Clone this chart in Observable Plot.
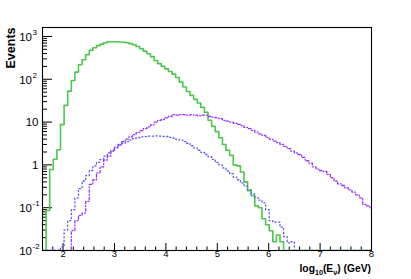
<!DOCTYPE html>
<html><head><meta charset="utf-8">
<script src="https://cdn.jsdelivr.net/npm/d3@7"></script>
<script src="https://cdn.jsdelivr.net/npm/@observablehq/plot@0.6"></script>
<style>body{margin:0;background:#fff;}</style>
</head><body><div id="chart"></div>
<script>
// Histogram binning (log10 E bins)
const binStart = 1.6;
const binWidth = 0.07;

// Series values per bin (Events)
const green = [0,0.086,0.78,1.35,2.26,8.7,24.5,53,94,147,219,287,376,473,547,610,664,716,750,755,750,745,735,712,680,643,585,515,455,395,338,275,232,200,175,152,132,110,86,66,52,42,34,28,22,17,11,8,6.0,4.3,3.0,2.2,1.67,1.0,0.95,0.68,0.40,0.25,0.19,0.11,0.10,0.055,0.04,0.029,0.016,0.023,0.016,0,0,0,0,0,0,0,0,0,0,0,0,0,0,0,0,0,0,0,0,0,0,0,0,0];
const blue = [0,0,0,0,0,0.012,0.03,0.05,0.09,0.17,0.28,0.42,0.56,0.74,0.95,1.15,1.35,1.6,1.9,2.2,2.6,2.9,3.2,3.5,3.8,4.1,4.3,4.5,4.55,4.7,4.7,4.75,4.7,4.65,4.6,4.4,4.25,4.0,3.8,3.5,3.2,2.8,2.5,2.2,1.95,1.75,1.55,1.35,1.15,1.0,0.85,0.72,0.62,0.52,0.45,0.38,0.32,0.26,0.21,0.17,0.15,0.13,0.09,0.05,0.046,0.046,0.035,0.021,0.015,0.016,0,0,0,0,0,0,0,0,0,0,0,0,0,0,0,0,0,0,0,0,0,0];
const purple = [0,0,0,0,0,0,0,0,0.029,0.05,0.066,0.075,0.14,0.35,0.45,0.65,0.9,1.3,1.6,2.1,2.5,3.0,3.5,4.0,4.5,5.1,5.7,6.3,7.0,7.7,8.6,10,11,11.5,12.5,13.5,15,14.5,15,15,14.5,15,14.5,14,14.5,14.5,13.5,13,12.5,12,11,10.5,10,9.4,8.8,8.3,7.5,7.0,6.4,5.8,5.3,4.9,4.4,4.0,3.6,3.3,3.0,2.7,2.4,2.1,1.9,1.75,1.5,1.25,1.1,0.9,0.8,0.74,0.7,0.6,0.5,0.42,0.36,0.33,0.29,0.26,0.23,0.2,0.17,0.12,0.11,0.10];

// Axes
const xDomain = [1.6, 8];
const yDomain = [0.01, 1620];
const xTicks = [2,3,4,5,6,7,8];
const xTickLabels = ["2","3","4","5","6","7","8"];
const yTicks = [0.01,0.1,1,10,100,1000];
const yTickBase = ["10","10","1","10","10","10"];
const yTickExp = ["-2","-1","","","2","3"];
const yTitle = "Events";

const W = 411, H = 279, mL = 42, mR = 40, mT = 27, mB = 29;
const plotW = W - mL - mR, plotH = H - mT - mB;

function steps(vals) {
  const pts = vals.map((v, i) => ({x: binStart + i * binWidth, y: Math.max(v, yDomain[0])}));
  pts.push({x: binStart + vals.length * binWidth, y: Math.max(vals[vals.length - 1], yDomain[0])});
  return pts;
}

const yMinor = d3.scaleLog().domain(yDomain).ticks().filter(t => !yTicks.some(m => Math.abs(m - t) / t < 1e-6));
const xMinor = d3.range(0, 33).map(i => +(xDomain[0] + i * 0.2).toFixed(2)).filter(t => t <= xDomain[1] && !xTicks.includes(t));

const yTable = yTicks.map((v, i) => ({v, base: yTickBase[i], exp: yTickExp[i]}));
const fontFam = "'Liberation Sans', Arial, Helvetica, sans-serif";

const svg = Plot.plot({
  width: W, height: H,
  marginLeft: mL, marginRight: mR, marginTop: mT, marginBottom: mB,
  style: {background: "white", fontFamily: fontFam, color: "black", overflow: "visible"},
  x: {domain: xDomain, axis: null},
  y: {type: "log", domain: yDomain, axis: null},
  marks: [
    Plot.frame({stroke: "black", strokeWidth: 1.1}),
    Plot.tickY(yTicks, {y: d => d, stroke: "black", insetRight: plotW - 10}),
    Plot.tickY(yMinor, {y: d => d, stroke: "black", insetRight: plotW - 5}),
    Plot.tickX(xTicks, {x: d => d, stroke: "black", insetTop: plotH - 7}),
    Plot.tickX(xMinor, {x: d => d, stroke: "black", insetTop: plotH - 3.5}),
    Plot.text(yTable.filter(d => d.exp === ""), {y: "v", text: "base", frameAnchor: "left", textAnchor: "end", dx: -4, fontSize: 11.5, fill: "black"}),
    Plot.text(yTable.filter(d => d.exp !== ""), {y: "v", text: "base", frameAnchor: "left", textAnchor: "end", dx: -10.5, dy: 1, fontSize: 11.5, fill: "black"}),
    Plot.text(yTable.filter(d => d.exp !== ""), {y: "v", text: "exp", frameAnchor: "left", textAnchor: "start", dx: -10, dy: -4, fontSize: 8, fill: "black"}),
    Plot.text(xTicks, {x: d => d, text: (d, i) => xTickLabels[i], frameAnchor: "bottom", dy: 6.5, fontSize: 9.5, fill: "black"}),
    Plot.text([yTitle], {text: d => d, frameAnchor: "top-left", rotate: -90, textAnchor: "end", lineAnchor: "middle", dx: -32, fontSize: 12.5, fontWeight: "bold", fill: "black"}),
    Plot.line(steps(green), {x: "x", y: "y", curve: "step-after", stroke: "#4cc94c", strokeWidth: 1.6, clip: true}),
    Plot.line(steps(blue), {x: "x", y: "y", curve: "step-after", stroke: "#5858f5", strokeWidth: 1.3, strokeDasharray: "1.2 2.6", clip: true}),
    Plot.line(steps(purple), {x: "x", y: "y", curve: "step-after", stroke: "#9933ff", strokeWidth: 1.3, strokeDasharray: "2.5 2 1 2", clip: true})
  ]
});

// x-axis title with subscripts
const t = d3.select(svg).append("text")
  .attr("x", W - mR).attr("y", 271.5)
  .attr("text-anchor", "end")
  .style("font-family", fontFam).style("font-weight", "bold").style("font-size", "10.3px").attr("fill", "black");
t.append("tspan").text("log");
t.append("tspan").attr("dy", 3).style("font-size", "7.2px").text("10");
t.append("tspan").attr("dy", -3).text("(E");
t.append("tspan").attr("dy", 3).style("font-size", "7.2px").text("ν");
t.append("tspan").attr("dy", -3).text(") (GeV)");

document.getElementById("chart").appendChild(svg);
</script>
</body></html>
